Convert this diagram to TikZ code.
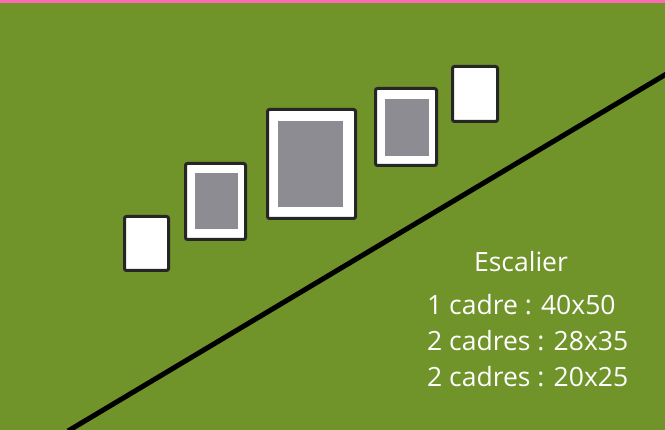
\documentclass[tikz,border=0pt]{standalone}
\usepackage{fontspec}
\setmainfont{Open Sans}
\definecolor{bg}{RGB}{112,147,42}
\definecolor{mat}{RGB}{140,140,146}
\definecolor{topbar}{RGB}{255,105,180}
\begin{document}
\begin{tikzpicture}[x=1pt,y=-1pt,
  frame/.style={draw=black!85,line width=3pt,fill=white,rounded corners=2pt},
  picture/.style={fill=mat},
  label/.style={text=white,font=\fontsize{26.5}{30}\selectfont,inner sep=0pt,anchor=base west}]
\useasboundingbox (0,0) rectangle (665,430);
\fill[bg] (0,0) rectangle (665,430);
\fill[topbar] (0,0) rectangle (665,3.5);
% diagonal line
\draw[line width=5pt,black] (68,431) -- (668,73);
% frames
\draw[frame] (124.5,216.5) rectangle (168.5,270.5);
\draw[frame] (185.5,163.5) rectangle (245.5,239.5);
\fill[picture] (195,173) rectangle (238,229);
\draw[frame] (267.5,109.5) rectangle (355.5,218.5);
\fill[picture] (278,121) rectangle (343,207);
\draw[frame] (375.5,88.5) rectangle (436.5,165.5);
\fill[picture] (385,99) rectangle (429,156);
\draw[frame] (452.5,66.5) rectangle (497.5,121.5);
% texts
\node[label,anchor=base] (t0) at (521,272) {Escalier};
\node[label] (t1) at (427,315) {1 cadre : 40x50};
\node[label] (t2) at (427,351) {2 cadres : 28x35};
\node[label] (t3) at (427,387) {2 cadres : 20x25};
\end{tikzpicture}
\end{document}
